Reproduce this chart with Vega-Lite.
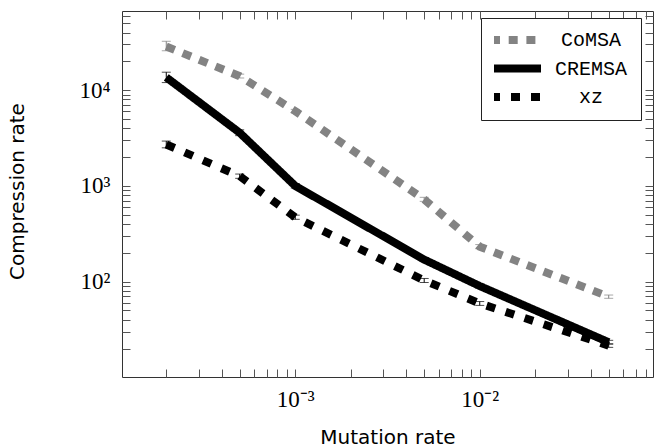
{
  "$schema": "https://vega.github.io/schema/vega-lite/v6.json",
  "autosize": "none",
  "padding": {"left": 122, "top": 11, "right": 1, "bottom": 71},
  "width": 531,
  "height": 366,
  "config": {
    "view": {"stroke": "#333333", "strokeWidth": 1},
    "axis": {"grid": false}
  },
  "data": {
    "values": [
      {"series": "CoMSA", "x": 0.0002, "y": 28600, "lo": 25800, "hi": 32400},
      {"series": "CoMSA", "x": 0.0005, "y": 14000, "lo": 13400, "hi": 14700},
      {"series": "CoMSA", "x": 0.001, "y": 6040, "lo": 5800, "hi": 6300},
      {"series": "CoMSA", "x": 0.005, "y": 722, "lo": 690, "hi": 760},
      {"series": "CoMSA", "x": 0.01, "y": 232, "lo": 221, "hi": 244},
      {"series": "CoMSA", "x": 0.05, "y": 69.7, "lo": 67, "hi": 72.5},
      {"series": "CREMSA", "x": 0.0002, "y": 13600, "lo": 12000, "hi": 15400},
      {"series": "CREMSA", "x": 0.0005, "y": 3590, "lo": 3350, "hi": 3850},
      {"series": "CREMSA", "x": 0.001, "y": 1000, "lo": 950, "hi": 1060},
      {"series": "CREMSA", "x": 0.005, "y": 170, "lo": 163, "hi": 178},
      {"series": "CREMSA", "x": 0.01, "y": 90, "lo": 86, "hi": 94},
      {"series": "CREMSA", "x": 0.05, "y": 23.3, "lo": 22.3, "hi": 24.4},
      {"series": "xz", "x": 0.0002, "y": 2710, "lo": 2500, "hi": 2940},
      {"series": "xz", "x": 0.0005, "y": 1265, "lo": 1200, "hi": 1330},
      {"series": "xz", "x": 0.001, "y": 470, "lo": 448, "hi": 495},
      {"series": "xz", "x": 0.005, "y": 103, "lo": 98, "hi": 108},
      {"series": "xz", "x": 0.01, "y": 59.3, "lo": 56.5, "hi": 62},
      {"series": "xz", "x": 0.05, "y": 21.5, "lo": 20.6, "hi": 22.4}
    ]
  },
  "resolve": {"axis": {"x": "independent", "y": "independent"}},
  "layer": [
    {
      "mark": {"type": "line", "strokeWidth": 8, "strokeCap": "butt"},
      "encoding": {
        "x": {
          "field": "x", "type": "quantitative",
          "scale": {"type": "log", "domain": [0.0001151, 0.0869], "nice": false},
          "axis": {
            "orient": "bottom", "domain": false,
            "values": [0.0002, 0.0003, 0.0004, 0.0005, 0.0006, 0.0007, 0.0008, 0.0009, 0.001, 0.002, 0.003, 0.004, 0.005, 0.006, 0.007, 0.008, 0.009, 0.01, 0.02, 0.03, 0.04, 0.05, 0.06, 0.07, 0.08],
            "ticks": true, "tickSize": -8, "tickColor": "#555555", "tickWidth": 1,
            "labelExpr": "datum.value == 0.001 ? '10\u207B\u00B3' : (datum.value == 0.01 ? '10\u207B\u00B2' : '')",
            "labelFont": "Liberation Serif", "labelFontSize": 23, "labelColor": "#000000",
            "labelBaseline": "alphabetic", "labelPadding": 37, "labelFlush": false, "labelOverlap": false,
            "title": "Mutation rate", "titleFont": "DejaVu Sans", "titleFontSize": 20,
            "titleFontWeight": "normal", "titleColor": "#000000",
            "titleX": 265.5, "titleY": 66, "titleAlign": "center", "titleBaseline": "alphabetic"
          }
        },
        "y": {
          "field": "y", "type": "quantitative",
          "scale": {"type": "log", "domain": [10.1, 67100], "nice": false},
          "axis": {
            "orient": "left", "domain": false,
            "values": [20, 30, 40, 50, 60, 70, 80, 90, 100, 200, 300, 400, 500, 600, 700, 800, 900, 1000, 2000, 3000, 4000, 5000, 6000, 7000, 8000, 9000, 10000, 20000, 30000, 40000, 50000, 60000],
            "ticks": true, "tickSize": -8, "tickColor": "#555555", "tickWidth": 1,
            "labelExpr": "datum.value == 100 ? '10\u00B2' : (datum.value == 1000 ? '10\u00B3' : (datum.value == 10000 ? '10\u2074' : ''))",
            "labelFont": "Liberation Serif", "labelFontSize": 23, "labelColor": "#000000",
            "labelBaseline": "middle", "labelPadding": 20, "labelFlush": false, "labelOverlap": false,
            "title": "Compression rate", "titleFont": "DejaVu Sans", "titleFontSize": 20,
            "titleFontWeight": "normal", "titleColor": "#000000",
            "titleX": -105, "titleY": 180, "titleAngle": -90, "titleAlign": "center", "titleBaseline": "middle"
          }
        },
        "color": {
          "field": "series", "type": "nominal",
          "scale": {"domain": ["CoMSA", "CREMSA", "xz"], "range": ["#838383", "#000000", "#000000"]},
          "legend": {
            "title": null, "orient": "none", "legendX": 359, "legendY": 7,
            "symbolType": "M-5,0H5", "symbolSize": 100, "symbolStrokeWidth": 8, "symbolOffset": 12,
            "labelFont": "Liberation Mono", "labelFontSize": 20, "labelColor": "#000000",
            "labelAlign": "center", "labelOffset": 65, "rowPadding": 8.5, "clipHeight": 18,
            "padding": 13, "strokeColor": "#222222", "fillColor": "#ffffff"
          }
        },
        "strokeDash": {
          "field": "series", "type": "nominal",
          "scale": {"domain": ["CoMSA", "CREMSA", "xz"], "range": [[9, 8.7], [1, 0], [9, 11]]},
          "legend": {
            "title": null, "orient": "none", "legendX": 359, "legendY": 7,
            "symbolType": "M-5,0H5", "symbolSize": 100, "symbolStrokeWidth": 8, "symbolOffset": 12,
            "labelFont": "Liberation Mono", "labelFontSize": 20, "labelColor": "#000000",
            "labelAlign": "center", "labelOffset": 65, "rowPadding": 8.5, "clipHeight": 18,
            "padding": 13, "strokeColor": "#222222", "fillColor": "#ffffff"
          }
        }
      }
    },
    {
      "mark": {"type": "rule", "strokeWidth": 1},
      "encoding": {
        "x": {
          "field": "x", "type": "quantitative",
          "axis": {
            "orient": "top", "domain": false,
            "values": [0.0002, 0.0003, 0.0004, 0.0005, 0.0006, 0.0007, 0.0008, 0.0009, 0.001, 0.002, 0.003, 0.004, 0.005, 0.006, 0.007, 0.008, 0.009, 0.01, 0.02, 0.03, 0.04, 0.05, 0.06, 0.07, 0.08],
            "ticks": true, "tickSize": -8, "tickColor": "#555555", "tickWidth": 1,
            "labelExpr": "''", "labelOverlap": false, "title": null
          }
        },
        "y": {
          "field": "lo", "type": "quantitative",
          "axis": {
            "orient": "right", "domain": false,
            "values": [20, 30, 40, 50, 60, 70, 80, 90, 100, 200, 300, 400, 500, 600, 700, 800, 900, 1000, 2000, 3000, 4000, 5000, 6000, 7000, 8000, 9000, 10000, 20000, 30000, 40000, 50000, 60000],
            "ticks": true, "tickSize": -8, "tickColor": "#555555", "tickWidth": 1,
            "labelExpr": "''", "labelOverlap": false, "title": null
          }
        },
        "y2": {"field": "hi"},
        "color": {"field": "series", "type": "nominal", "legend": null}
      }
    },
    {
      "transform": [{"fold": ["lo", "hi"], "as": ["end", "v"]}],
      "mark": {"type": "tick", "orient": "horizontal", "size": 9, "thickness": 1},
      "encoding": {
        "x": {"field": "x", "type": "quantitative", "axis": null},
        "y": {"field": "v", "type": "quantitative", "axis": null},
        "color": {"field": "series", "type": "nominal", "legend": null}
      }
    }
  ]
}
